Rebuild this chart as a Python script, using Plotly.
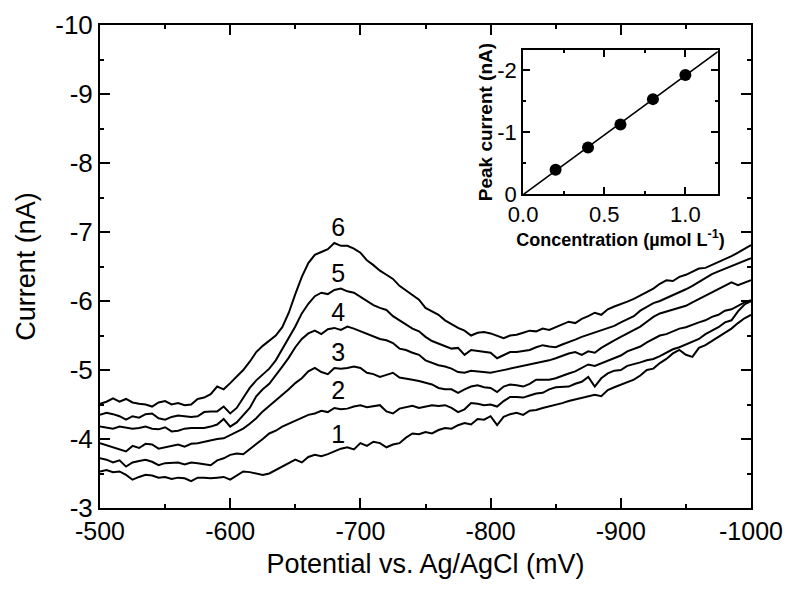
import plotly.graph_objects as go
import numpy as np

# Potential grid (mV), 5 mV sampling
potential = list(range(-500, -1001, -5))

curve1 = [-3.53, -3.55, -3.52, -3.53, -3.48, -3.41, -3.45, -3.48, -3.47, -3.44, -3.45, -3.42, -3.44, -3.43, -3.39, -3.44, -3.44, -3.43, -3.44, -3.45,
          -3.41, -3.47, -3.53, -3.52, -3.50, -3.48, -3.50, -3.55, -3.60, -3.65, -3.70, -3.66, -3.74, -3.77, -3.75, -3.78, -3.82, -3.86, -3.88, -3.85,
          -3.94, -3.90, -3.96, -3.94, -3.88, -3.92, -3.94, -4.02, -4.08, -4.07, -4.10, -4.08, -4.13, -4.16, -4.15, -4.20, -4.23, -4.21, -4.29, -4.28,
          -4.33, -4.20, -4.32, -4.36, -4.38, -4.35, -4.41, -4.42, -4.45, -4.47, -4.50, -4.52, -4.55, -4.57, -4.60, -4.62, -4.64, -4.62, -4.71, -4.75,
          -4.79, -4.82, -4.86, -4.92, -5.00, -5.02, -5.10, -5.16, -5.24, -5.29, -5.22, -5.19, -5.32, -5.36, -5.42, -5.47, -5.53, -5.60, -5.68, -5.75,
          -5.80]
curve2 = [-3.72, -3.70, -3.66, -3.69, -3.60, -3.66, -3.68, -3.70, -3.67, -3.62, -3.65, -3.66, -3.66, -3.63, -3.66, -3.65, -3.64, -3.62, -3.69, -3.72,
          -3.77, -3.79, -3.78, -3.85, -3.93, -4.00, -4.08, -4.12, -4.18, -4.22, -4.26, -4.30, -4.35, -4.37, -4.41, -4.39, -4.45, -4.43, -4.44, -4.47,
          -4.49, -4.46, -4.47, -4.49, -4.40, -4.37, -4.44, -4.46, -4.48, -4.45, -4.47, -4.49, -4.48, -4.49, -4.45, -4.39, -4.43, -4.52, -4.51, -4.49,
          -4.50, -4.47, -4.55, -4.61, -4.61, -4.60, -4.63, -4.66, -4.67, -4.72, -4.75, -4.76, -4.76, -4.80, -4.83, -4.90, -4.76, -4.88, -4.95, -4.99,
          -5.00, -5.06, -5.08, -5.11, -5.14, -5.16, -5.20, -5.25, -5.30, -5.33, -5.37, -5.41, -5.45, -5.52, -5.57, -5.62, -5.69, -5.72, -5.85, -5.95,
          -6.00]
curve3 = [-3.94, -3.91, -3.87, -3.84, -3.82, -3.90, -3.87, -3.93, -3.92, -3.86, -3.88, -3.91, -3.92, -3.89, -3.93, -3.94, -3.96, -3.99, -4.00, -4.01,
          -4.06, -4.10, -4.15, -4.22, -4.30, -4.40, -4.48, -4.55, -4.63, -4.72, -4.81, -4.88, -4.98, -5.03, -4.97, -4.94, -5.03, -5.02, -5.03, -5.05,
          -5.03, -4.96, -4.94, -4.90, -4.93, -4.96, -4.89, -4.88, -4.86, -4.84, -4.81, -4.79, -4.74, -4.72, -4.72, -4.67, -4.72, -4.76, -4.78, -4.75,
          -4.74, -4.68, -4.76, -4.79, -4.78, -4.76, -4.80, -4.86, -4.86, -4.86, -4.88, -4.92, -4.95, -4.98, -5.03, -5.08, -5.06, -5.10, -5.14, -5.17,
          -5.21, -5.27, -5.30, -5.34, -5.40, -5.45, -5.50, -5.52, -5.56, -5.60, -5.62, -5.66, -5.69, -5.72, -5.77, -5.80, -5.86, -5.88, -5.93, -5.98,
          -6.01]
curve4 = [-4.18, -4.16, -4.15, -4.18, -4.17, -4.15, -4.16, -4.18, -4.15, -4.14, -4.17, -4.11, -4.12, -4.15, -4.16, -4.16, -4.16, -4.18, -4.21, -4.29,
          -4.18, -4.24, -4.35, -4.45, -4.62, -4.72, -4.80, -4.92, -5.05, -5.18, -5.33, -5.45, -5.53, -5.57, -5.52, -5.59, -5.61, -5.58, -5.63, -5.60,
          -5.56, -5.52, -5.49, -5.45, -5.43, -5.39, -5.31, -5.29, -5.25, -5.22, -5.14, -5.10, -5.07, -5.05, -5.02, -4.97, -4.96, -4.99, -4.98, -4.97,
          -4.96, -4.98, -5.00, -5.01, -5.03, -5.05, -5.07, -5.09, -5.12, -5.14, -5.17, -5.21, -5.24, -5.26, -5.22, -5.27, -5.25, -5.32, -5.38, -5.43,
          -5.48, -5.53, -5.57, -5.63, -5.70, -5.77, -5.82, -5.85, -5.88, -5.90, -5.93, -5.98, -6.03, -6.07, -6.12, -6.17, -6.22, -6.27, -6.23, -6.27,
          -6.30]
curve5 = [-4.35, -4.38, -4.36, -4.33, -4.28, -4.33, -4.31, -4.36, -4.37, -4.30, -4.28, -4.32, -4.34, -4.33, -4.32, -4.33, -4.39, -4.40, -4.40, -4.47,
          -4.37, -4.45, -4.60, -4.74, -4.85, -4.93, -5.02, -5.14, -5.30, -5.46, -5.63, -5.82, -5.96, -6.07, -6.12, -6.10, -6.16, -6.18, -6.14, -6.12,
          -6.06, -5.99, -5.94, -5.90, -5.87, -5.78, -5.72, -5.66, -5.60, -5.56, -5.48, -5.42, -5.38, -5.35, -5.31, -5.32, -5.22, -5.29, -5.28, -5.26,
          -5.25, -5.17, -5.22, -5.26, -5.26, -5.28, -5.29, -5.33, -5.36, -5.34, -5.33, -5.37, -5.40, -5.44, -5.48, -5.51, -5.55, -5.57, -5.60, -5.64,
          -5.69, -5.74, -5.78, -5.86, -5.92, -5.97, -6.00, -6.04, -6.08, -6.12, -6.17, -6.22, -6.28, -6.33, -6.39, -6.43, -6.47, -6.50, -6.54, -6.58,
          -6.62]
curve6 = [-4.51, -4.54, -4.59, -4.54, -4.58, -4.53, -4.51, -4.50, -4.47, -4.53, -4.55, -4.50, -4.52, -4.49, -4.50, -4.58, -4.60, -4.65, -4.76, -4.72,
          -4.81, -4.90, -5.00, -5.12, -5.26, -5.35, -5.43, -5.50, -5.62, -5.83, -6.10, -6.35, -6.55, -6.67, -6.71, -6.75, -6.84, -6.80, -6.80, -6.76,
          -6.70, -6.59, -6.52, -6.44, -6.38, -6.32, -6.22, -6.15, -6.08, -6.02, -5.90, -5.85, -5.80, -5.72, -5.66, -5.61, -5.57, -5.50, -5.54, -5.55,
          -5.53, -5.50, -5.46, -5.50, -5.51, -5.54, -5.57, -5.56, -5.60, -5.58, -5.62, -5.66, -5.70, -5.68, -5.74, -5.78, -5.83, -5.80, -5.88, -5.92,
          -5.95, -5.99, -6.03, -6.08, -6.13, -6.18, -6.25, -6.30, -6.29, -6.35, -6.38, -6.42, -6.47, -6.48, -6.52, -6.57, -6.60, -6.65, -6.70, -6.75,
          -6.81]
curves = [curve1, curve2, curve3, curve4, curve5, curve6]
curve_labels = ["1", "2", "3", "4", "5", "6"]
label_x = [-683, -683, -683, -683, -683, -683]
label_y = [-4.03, -4.67, -5.22, -5.80, -6.36, -7.03]

# Main axis ticks
x_tickvals = [-500, -600, -700, -800, -900, -1000]
x_ticktext = ["-500", "-600", "-700", "-800", "-900", "-1000"]
y_tickvals = [-3, -4, -5, -6, -7, -8, -9, -10]
y_ticktext = ["-3", "-4", "-5", "-6", "-7", "-8", "-9", "-10"]

# Inset data
concentration = [0.2, 0.4, 0.6, 0.8, 1.0]
peak_current = [-0.39, -0.75, -1.12, -1.53, -1.92]
x2_tickvals = [0.0, 0.5, 1.0]
x2_ticktext = ["0.0", "0.5", "1.0"]
y2_tickvals = [0, -1, -2]
y2_ticktext = ["0", "-1", "-2"]

FONT = "Liberation Sans, Arial, sans-serif"
fig = go.Figure()

for c in curves:
    fig.add_trace(go.Scatter(x=potential, y=c, mode="lines",
                             line=dict(color="black", width=2), showlegend=False,
                             xaxis="x", yaxis="y"))

fig.add_trace(go.Scatter(x=label_x, y=label_y, text=curve_labels, mode="text",
                         textfont=dict(family=FONT, size=25, color="black"),
                         showlegend=False, xaxis="x", yaxis="y"))

# inset fit line
slope, intercept = np.polyfit(concentration, peak_current, 1)
fit_x = [0.0, 1.2]
fit_y = [intercept + slope * v for v in fit_x]
fig.add_trace(go.Scatter(x=fit_x, y=fit_y, mode="lines", line=dict(color="black", width=1.5),
                         showlegend=False, xaxis="x2", yaxis="y2"))
fig.add_trace(go.Scatter(x=concentration, y=peak_current, mode="markers",
                         marker=dict(color="black", size=12), showlegend=False,
                         xaxis="x2", yaxis="y2"))

axis_common = dict(showgrid=False, zeroline=False, showline=True, linecolor="black",
                   linewidth=2, mirror="ticks", ticks="inside", tickcolor="black",
                   tickwidth=2, automargin=False, tickmode="array",
                   ticklabeloverflow="allow")

fig.update_layout(
    width=787, height=590,
    margin=dict(l=100, r=36, t=25, b=82),
    paper_bgcolor="white", plot_bgcolor="white",
    font=dict(family=FONT, color="black"),
    xaxis=dict(**axis_common, range=[-500, -1000], tickvals=x_tickvals, ticktext=x_ticktext,
               ticklen=10,
               minor=dict(ticks="inside", ticklen=4, dtick=50, tickcolor="black", tickwidth=2),
               tickfont=dict(size=25),
               title=dict(text="Potential vs. Ag/AgCl (mV)", font=dict(size=27), standoff=10),
               domain=[0, 1]),
    yaxis=dict(**axis_common, range=[-3, -10], tickvals=y_tickvals, ticktext=y_ticktext,
               ticklen=10,
               minor=dict(ticks="inside", ticklen=4, dtick=0.5, tickcolor="black", tickwidth=2),
               tickfont=dict(size=26),
               title=dict(text="Current (nA)", font=dict(size=27), standoff=12),
               domain=[0, 1]),
    xaxis2=dict(**axis_common, range=[0, 1.2], tickvals=x2_tickvals, ticktext=x2_ticktext,
                ticklen=7,
                minor=dict(ticks="inside", ticklen=3, dtick=0.25, tickcolor="black", tickwidth=1.5),
                tickfont=dict(size=22),
                title=dict(text="<b>Concentration (µmol L<sup>-1</sup>)</b>", font=dict(size=18), standoff=0),
                domain=[0.650, 0.949], anchor="y2"),
    yaxis2=dict(**axis_common, range=[0, -2.32], tickvals=y2_tickvals, ticktext=y2_ticktext,
                ticklen=7,
                minor=dict(ticks="inside", ticklen=3, dtick=0.5, tickcolor="black", tickwidth=1.5),
                tickfont=dict(size=22),
                title=dict(text="<b>Peak current (nA)</b>", font=dict(size=19), standoff=0),
                domain=[0.650, 0.948], anchor="x2"),
)

# remove the default 8 px page margin so the 787x590 figure fills the window exactly
fig.write_html("out.html",
               config={"displayModeBar": False},
               post_script="document.body.style.margin='0';document.body.style.overflow='hidden';")
